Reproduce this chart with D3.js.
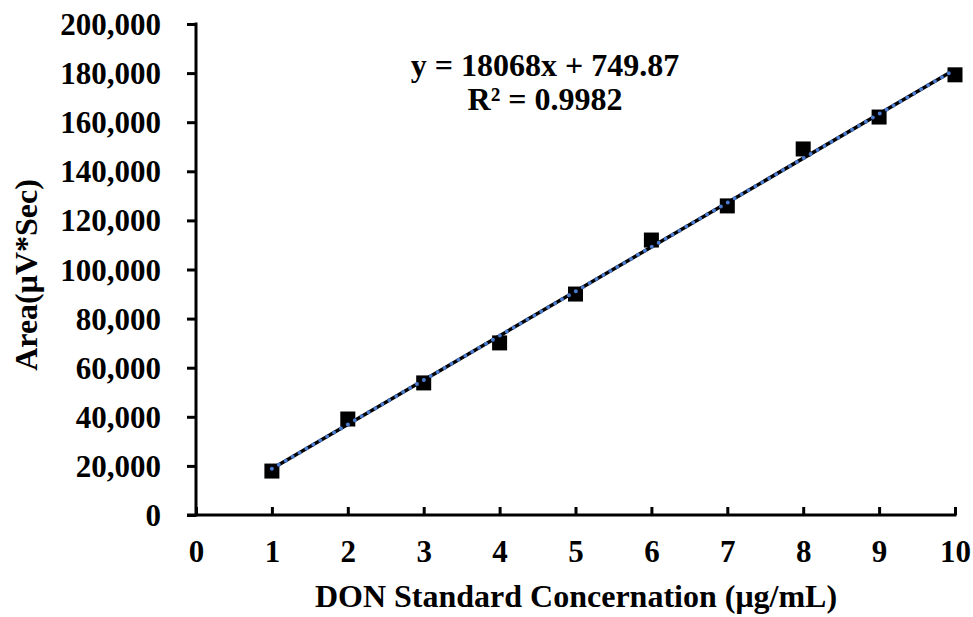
<!DOCTYPE html>
<html>
<head>
<meta charset="utf-8">
<script src="https://cdn.jsdelivr.net/npm/d3@7"></script>
<style>
  body { margin: 0; background: #fff; }
  text { font-family: "Liberation Serif", "Times New Roman", serif; font-weight: bold; fill: #000; }
</style>
</head>
<body>
<div id="chart"></div>
<script>
// standard curve points
var concentrations = [1, 2, 3, 4, 5, 6, 7, 8, 9, 10];
var areas = [17900, 39100, 53800, 70100, 90000, 112000, 125900, 149100, 162100, 179300];
var slope = 18068;
var intercept = 749.87;
var xTicks = [0, 1, 2, 3, 4, 5, 6, 7, 8, 9, 10];
var yTicks = [0, 20000, 40000, 60000, 80000, 100000, 120000, 140000, 160000, 180000, 200000];

var svgWidth = 973;
var svgHeight = 617;
var margin = { top: 24, right: 18, bottom: 102, left: 196 };
var width = svgWidth - margin.left - margin.right;
var height = svgHeight - margin.top - margin.bottom;

var svg = d3.select("#chart")
  .append("svg")
  .attr("width", svgWidth)
  .attr("height", svgHeight);

var chartGroup = svg.append("g")
  .attr("transform", `translate(${margin.left}, ${margin.top})`);

var x = d3.scaleLinear().domain([0, 10]).range([0, 759]);
var y = d3.scaleLinear().domain([0, 200000]).range([height, 0]);

// y axis
var leftAxis = d3.axisLeft(y)
  .tickValues(yTicks)
  .tickSize(9)
  .tickPadding(26)
  .tickFormat(d3.format(","));

var yAxis = chartGroup.append("g").call(leftAxis);
yAxis.select(".domain").remove();
yAxis.selectAll("line").attr("stroke", "#000").attr("stroke-width", 3);
yAxis.selectAll("text").style("font-size", "31px").attr("dy", "0.34em");
yAxis.append("line")
  .attr("x1", 0).attr("x2", 0)
  .attr("y1", y(200000) - 1.5).attr("y2", height + 1.5)
  .attr("stroke", "#000").attr("stroke-width", 3);

// x axis, ticks point inside
var bottomAxis = d3.axisBottom(x)
  .tickValues(xTicks)
  .tickSize(0)
  .tickPadding(25);

var xAxis = chartGroup.append("g")
  .attr("transform", `translate(0, ${height})`)
  .call(bottomAxis);
xAxis.select(".domain").remove();
xAxis.selectAll("text").style("font-size", "31px");
xAxis.selectAll(".tick").append("line")
  .attr("y1", 0).attr("y2", -8)
  .attr("stroke", "#000").attr("stroke-width", 3);
xAxis.append("line")
  .attr("x1", -9).attr("x2", x(10) + 1.5)
  .attr("y1", 0).attr("y2", 0)
  .attr("stroke", "#000").attr("stroke-width", 3);

// markers
chartGroup.selectAll(".pt")
  .data(concentrations)
  .enter()
  .append("rect")
  .attr("class", "pt")
  .attr("x", (d) => x(d) - 7.5)
  .attr("y", (d, i) => y(areas[i]) - 7.5)
  .attr("width", 15)
  .attr("height", 15)
  .attr("fill", "#000");

// trendline
var fit = [1, 10].map((d) => [x(d), y(slope * d + intercept)]);
var line = d3.line();

chartGroup.append("path")
  .attr("d", line(fit))
  .attr("stroke", "#000")
  .attr("stroke-width", 3.5)
  .attr("fill", "none");

chartGroup.append("path")
  .attr("d", line(fit))
  .attr("stroke", "#4A7BD0")
  .attr("stroke-width", 4)
  .attr("stroke-linecap", "round")
  .attr("stroke-dasharray", "0,8")
  .attr("fill", "none");

// equation
svg.append("text")
  .attr("x", 545).attr("y", 76)
  .attr("text-anchor", "middle")
  .style("font-size", "32px")
  .text("y = 18068x + 749.87");

svg.append("text")
  .attr("x", 545).attr("y", 110)
  .attr("text-anchor", "middle")
  .style("font-size", "32px")
  .text("R² = 0.9982");

// axis titles
svg.append("text")
  .attr("x", 576).attr("y", 607)
  .attr("text-anchor", "middle")
  .style("font-size", "32px")
  .text("DON Standard Concernation (μg/mL)");

svg.append("text")
  .attr("transform", "translate(37, 275) rotate(-90)")
  .attr("text-anchor", "middle")
  .style("font-size", "32px")
  .text("Area(μV*Sec)");
</script>
</body>
</html>
